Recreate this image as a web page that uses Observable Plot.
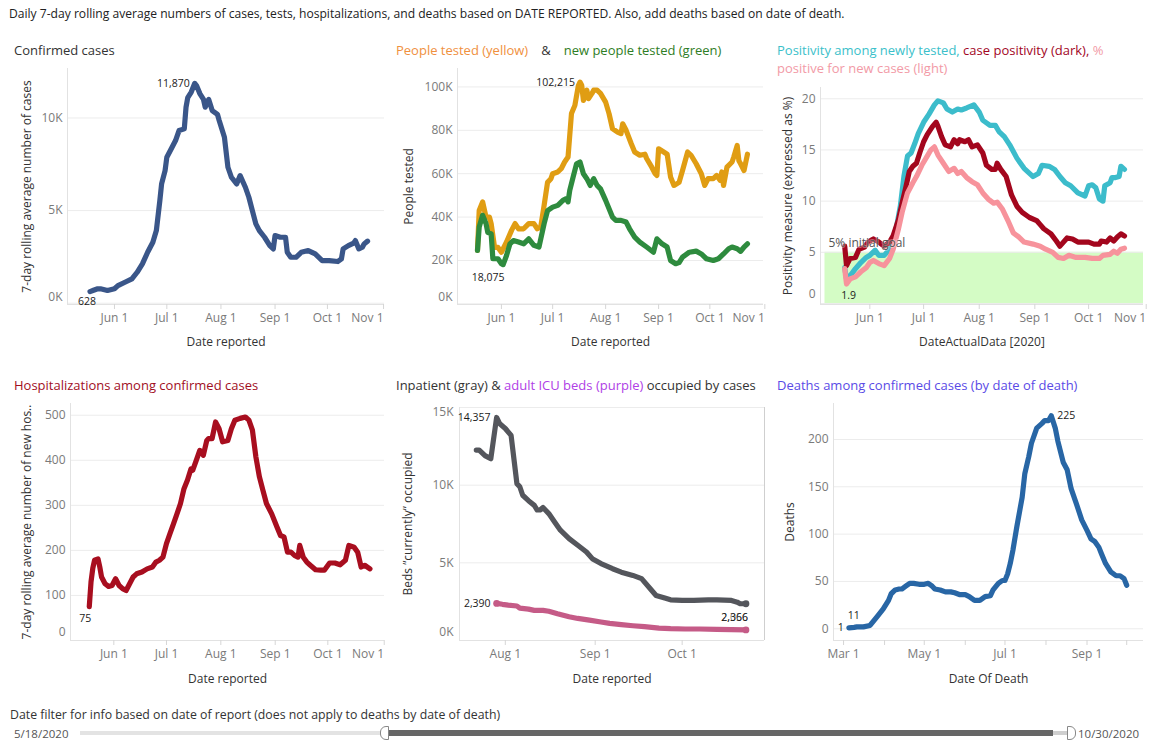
<!DOCTYPE html>
<html>
<head>
<meta charset="utf-8">
<script src="https://cdn.jsdelivr.net/npm/d3@7"></script>
<script src="https://cdn.jsdelivr.net/npm/@observablehq/plot@0.6"></script>
<style>
  body { margin: 0; background: #fff; font-family: "Open Sans", sans-serif; }
  #root { position: relative; width: 1154px; height: 750px; overflow: hidden; background: #fff; }
  .abs { position: absolute; white-space: nowrap; }
  .ptitle { font-size: 13px; line-height: 18px; }
</style>
</head>
<body>
<div id="root"></div>
<script>
// ---------------- DATA ----------------
const confirmedCases = [
  ["2020-05-18",628],["2020-05-20",700],["2020-05-22",770],["2020-05-24",780],["2020-05-28",690],
  ["2020-06-01",780],["2020-06-03",950],["2020-06-07",1130],["2020-06-11",1310],["2020-06-14",1670],
  ["2020-06-17",2120],["2020-06-20",2750],["2020-06-23",3290],["2020-06-25",3920],["2020-06-27",5540],
  ["2020-06-28",6440],["2020-06-30",7160],["2020-07-01",7880],["2020-07-04",8420],["2020-07-06",8780],
  ["2020-07-08",9320],["2020-07-11",9410],["2020-07-12",10580],["2020-07-13",11100],["2020-07-15",11400],
  ["2020-07-17",11870],["2020-07-18",11750],["2020-07-20",11300],["2020-07-22",11000],["2020-07-23",10580],
  ["2020-07-25",11000],["2020-07-27",10400],["2020-07-30",10200],["2020-07-31",9860],["2020-08-03",8960],
  ["2020-08-05",7340],["2020-08-07",6800],["2020-08-10",6440],["2020-08-12",6890],["2020-08-15",6260],
  ["2020-08-17",5720],["2020-08-19",5000],["2020-08-21",4280],["2020-08-23",3920],["2020-08-26",3560],
  ["2020-08-29",3110],["2020-08-31",2930],["2020-09-01",3650],["2020-09-04",3560],["2020-09-07",3560],
  ["2020-09-08",2750],["2020-09-10",2480],["2020-09-13",2480],["2020-09-16",2750],["2020-09-20",2840],
  ["2020-09-24",2660],["2020-09-28",2300],["2020-10-02",2300],["2020-10-07",2250],["2020-10-09",2390],
  ["2020-10-10",2930],["2020-10-13",3110],["2020-10-16",3240],["2020-10-17",3380],["2020-10-19",2930],
  ["2020-10-21",3020],["2020-10-22",3200],["2020-10-24",3350]
];

const peopleTested = [
  ["2020-05-18",24600],["2020-05-19",43000],["2020-05-21",47000],["2020-05-23",40000],["2020-05-25",40000],
  ["2020-05-26",37000],["2020-05-28",26000],["2020-05-30",26000],["2020-06-01",23800],["2020-06-04",28500],
  ["2020-06-07",34000],["2020-06-09",37000],["2020-06-11",34600],["2020-06-14",34600],["2020-06-17",37000],
  ["2020-06-20",37000],["2020-06-22",34600],["2020-06-24",35400],["2020-06-26",45400],["2020-06-28",56000],
  ["2020-06-30",57700],["2020-07-01",60000],["2020-07-04",60800],["2020-07-06",62300],["2020-07-08",65400],
  ["2020-07-10",67700],["2020-07-12",87700],["2020-07-14",91500],["2020-07-16",100500],["2020-07-17",102215],
  ["2020-07-18",100800],["2020-07-19",93800],["2020-07-21",98500],["2020-07-22",94600],["2020-07-24",97000],
  ["2020-07-25",98500],["2020-07-27",98500],["2020-07-29",97000],["2020-08-01",93000],["2020-08-03",87700],
  ["2020-08-05",80800],["2020-08-08",79200],["2020-08-10",78500],["2020-08-11",83000],["2020-08-13",80000],
  ["2020-08-16",73800],["2020-08-18",70000],["2020-08-21",68500],["2020-08-24",69000],["2020-08-25",67000],
  ["2020-08-28",63000],["2020-08-30",60000],["2020-08-31",59200],["2020-09-01",71500],["2020-09-04",70000],
  ["2020-09-06",69000],["2020-09-08",58500],["2020-09-10",54600],["2020-09-13",56000],["2020-09-15",61500],
  ["2020-09-18",70000],["2020-09-20",68500],["2020-09-23",64600],["2020-09-26",60000],["2020-09-28",54600],
  ["2020-09-30",57700],["2020-10-03",57700],["2020-10-05",59200],["2020-10-07",57000],["2020-10-08",60800],
  ["2020-10-09",54600],["2020-10-11",63000],["2020-10-14",65400],["2020-10-15",67700],["2020-10-17",73000],
  ["2020-10-18",66000],["2020-10-19",64600],["2020-10-21",61500],["2020-10-23",69000]
];

const newPeopleTested = [
  ["2020-05-18",24600],["2020-05-19",35400],["2020-05-21",40800],["2020-05-23",37000],["2020-05-24",33000],
  ["2020-05-26",32300],["2020-05-27",20800],["2020-05-30",20800],["2020-06-01",18500],["2020-06-02",18075],
  ["2020-06-04",22300],["2020-06-06",27700],["2020-06-08",29200],["2020-06-11",28500],["2020-06-14",27700],
  ["2020-06-17",30000],["2020-06-20",27000],["2020-06-23",26200],["2020-06-26",37000],["2020-06-28",43000],
  ["2020-07-01",44600],["2020-07-04",45400],["2020-07-07",47700],["2020-07-09",48500],["2020-07-10",47000],
  ["2020-07-11",52300],["2020-07-13",58500],["2020-07-15",64600],["2020-07-17",65400],["2020-07-19",60000],
  ["2020-07-21",57700],["2020-07-23",54600],["2020-07-25",57700],["2020-07-27",54600],["2020-07-29",53000],
  ["2020-08-01",47700],["2020-08-05",40000],["2020-08-07",38500],["2020-08-10",38500],["2020-08-13",37700],
  ["2020-08-15",34600],["2020-08-18",30800],["2020-08-21",28500],["2020-08-25",26200],["2020-08-29",23800],
  ["2020-08-31",30000],["2020-09-03",27700],["2020-09-06",26200],["2020-09-08",20000],["2020-09-11",18500],
  ["2020-09-13",19000],["2020-09-15",21500],["2020-09-19",23800],["2020-09-23",24300],["2020-09-26",23000],
  ["2020-09-29",20800],["2020-10-03",20000],["2020-10-06",20800],["2020-10-09",23000],["2020-10-12",25400],
  ["2020-10-14",26200],["2020-10-17",25400],["2020-10-19",24200],["2020-10-21",26200],["2020-10-23",27700]
];

const positivityNewlyTested = [
  ["2020-05-18",3.5],["2020-05-19",2.4],["2020-05-21",2.7],["2020-05-24",3.4],["2020-05-27",4.0],
  ["2020-05-30",4.5],["2020-06-01",4.7],["2020-06-04",5.2],["2020-06-06",4.7],["2020-06-09",4.7],
  ["2020-06-12",5.3],["2020-06-14",6.0],["2020-06-16",7.6],["2020-06-18",9.5],["2020-06-20",12.4],
  ["2020-06-22",14.4],["2020-06-24",14.7],["2020-06-26",15.6],["2020-06-28",16.6],["2020-07-01",17.7],
  ["2020-07-04",18.5],["2020-07-07",19.4],["2020-07-09",19.8],["2020-07-12",19.6],["2020-07-14",19.0],
  ["2020-07-17",18.7],["2020-07-20",19.0],["2020-07-22",18.9],["2020-07-25",19.1],["2020-07-29",19.4],
  ["2020-08-01",18.7],["2020-08-03",17.9],["2020-08-07",17.4],["2020-08-10",17.4],["2020-08-12",16.8],
  ["2020-08-15",16.3],["2020-08-18",15.5],["2020-08-22",14.2],["2020-08-26",13.2],["2020-08-31",12.4],
  ["2020-09-03",12.7],["2020-09-05",13.5],["2020-09-09",13.4],["2020-09-12",13.1],["2020-09-15",12.4],
  ["2020-09-18",11.8],["2020-09-21",11.5],["2020-09-25",10.8],["2020-09-29",10.5],["2020-10-01",11.5],
  ["2020-10-03",11.6],["2020-10-05",11.3],["2020-10-07",10.2],["2020-10-09",10.0],["2020-10-10",11.5],
  ["2020-10-13",11.8],["2020-10-14",12.3],["2020-10-16",12.3],["2020-10-18",12.4],["2020-10-19",13.4],
  ["2020-10-21",13.1]
];

const casePositivity = [
  ["2020-05-18",5.6],["2020-05-19",3.7],["2020-05-21",4.4],["2020-05-24",4.5],["2020-05-26",5.3],
  ["2020-05-29",5.5],["2020-05-31",6.0],["2020-06-03",6.3],["2020-06-06",6.0],["2020-06-09",5.6],
  ["2020-06-12",6.0],["2020-06-14",6.6],["2020-06-17",8.2],["2020-06-19",9.8],["2020-06-21",11.3],
  ["2020-06-23",12.9],["2020-06-25",13.4],["2020-06-27",13.7],["2020-06-29",14.8],["2020-07-01",15.8],
  ["2020-07-03",16.5],["2020-07-06",17.3],["2020-07-08",17.7],["2020-07-09",17.3],["2020-07-11",16.3],
  ["2020-07-13",15.5],["2020-07-16",15.3],["2020-07-18",16.0],["2020-07-20",15.6],["2020-07-21",16.0],
  ["2020-07-24",15.8],["2020-07-26",16.0],["2020-07-28",15.3],["2020-07-31",15.5],["2020-08-03",14.7],
  ["2020-08-05",13.5],["2020-08-08",13.1],["2020-08-10",13.1],["2020-08-11",13.7],["2020-08-13",13.1],
  ["2020-08-16",12.4],["2020-08-19",10.6],["2020-08-22",9.5],["2020-08-25",8.9],["2020-08-29",8.4],
  ["2020-09-02",8.1],["2020-09-04",7.7],["2020-09-06",7.3],["2020-09-10",6.8],["2020-09-13",6.1],
  ["2020-09-15",5.6],["2020-09-19",6.4],["2020-09-22",6.3],["2020-09-25",6.0],["2020-09-28",6.0],
  ["2020-10-01",6.0],["2020-10-04",5.8],["2020-10-07",5.8],["2020-10-08",6.1],["2020-10-11",6.0],
  ["2020-10-13",6.4],["2020-10-15",6.1],["2020-10-17",6.5],["2020-10-19",6.8],["2020-10-21",6.6]
];

const pctPositiveNewCases = [
  ["2020-05-18",3.4],["2020-05-19",1.9],["2020-05-21",2.4],["2020-05-24",2.6],["2020-05-27",3.1],
  ["2020-05-30",3.5],["2020-06-01",4.0],["2020-06-03",4.2],["2020-06-06",3.9],["2020-06-09",3.7],
  ["2020-06-12",4.4],["2020-06-14",5.3],["2020-06-17",7.3],["2020-06-19",8.9],["2020-06-22",10.8],
  ["2020-06-25",11.8],["2020-06-27",12.4],["2020-06-30",13.5],["2020-07-03",14.4],["2020-07-05",15.0],
  ["2020-07-07",15.3],["2020-07-09",14.5],["2020-07-12",13.7],["2020-07-15",12.9],["2020-07-18",13.2],
  ["2020-07-20",12.7],["2020-07-22",12.9],["2020-07-25",12.3],["2020-07-28",11.9],["2020-07-31",11.6],
  ["2020-08-03",10.8],["2020-08-06",10.2],["2020-08-09",9.8],["2020-08-11",9.9],["2020-08-14",9.2],
  ["2020-08-17",8.1],["2020-08-20",6.9],["2020-08-23",6.5],["2020-08-26",6.0],["2020-08-31",5.8],
  ["2020-09-04",5.6],["2020-09-07",5.3],["2020-09-11",5.0],["2020-09-14",4.5],["2020-09-17",4.4],
  ["2020-09-20",4.7],["2020-09-24",4.5],["2020-09-29",4.5],["2020-10-03",4.4],["2020-10-07",4.4],
  ["2020-10-09",4.7],["2020-10-13",4.8],["2020-10-15",5.1],["2020-10-17",4.9],["2020-10-19",5.3],
  ["2020-10-21",5.4]
];
const positivityGoal = 5;

const hospitalizations = [
  ["2020-05-18",75],["2020-05-19",130],["2020-05-20",160],["2020-05-21",178],["2020-05-23",181],
  ["2020-05-24",163],["2020-05-25",141],["2020-05-27",126],["2020-05-29",120],["2020-05-31",122],
  ["2020-06-02",137],["2020-06-04",122],["2020-06-06",115],["2020-06-08",111],["2020-06-10",126],
  ["2020-06-12",141],["2020-06-14",148],["2020-06-17",152],["2020-06-20",159],["2020-06-23",163],
  ["2020-06-25",174],["2020-06-27",178],["2020-06-29",185],["2020-07-01",215],["2020-07-03",237],
  ["2020-07-05",259],["2020-07-07",281],["2020-07-09",304],["2020-07-11",337],["2020-07-13",356],
  ["2020-07-15",381],["2020-07-16",378],["2020-07-18",400],["2020-07-20",422],["2020-07-22",411],
  ["2020-07-24",444],["2020-07-25",448],["2020-07-27",448],["2020-07-29",485],["2020-07-31",470],
  ["2020-08-02",441],["2020-08-05",444],["2020-08-07",470],["2020-08-09",489],["2020-08-12",493],
  ["2020-08-15",496],["2020-08-17",489],["2020-08-19",467],["2020-08-21",407],["2020-08-23",363],
  ["2020-08-25",333],["2020-08-27",304],["2020-08-30",281],["2020-09-02",252],["2020-09-04",233],
  ["2020-09-06",230],["2020-09-08",196],["2020-09-10",196],["2020-09-12",189],["2020-09-14",185],
  ["2020-09-15",211],["2020-09-17",185],["2020-09-19",174],["2020-09-21",167],["2020-09-24",157],
  ["2020-09-27",156],["2020-09-29",156],["2020-10-02",172],["2020-10-05",172],["2020-10-08",168],
  ["2020-10-11",178],["2020-10-13",211],["2020-10-16",207],["2020-10-18",196],["2020-10-20",163],
  ["2020-10-22",167],["2020-10-25",159]
];

const inpatientBeds = [
  ["2020-07-22",12260],["2020-07-23",12260],["2020-07-25",11900],["2020-07-27",11700],["2020-07-29",14357],
  ["2020-07-30",13970],["2020-08-01",13650],["2020-08-03",13200],["2020-08-05",10100],["2020-08-06",9900],
  ["2020-08-07",9350],["2020-08-09",9000],["2020-08-11",8700],["2020-08-12",8400],["2020-08-13",8400],
  ["2020-08-14",8560],["2020-08-16",8170],["2020-08-18",7630],["2020-08-20",7100],["2020-08-23",6560],
  ["2020-08-26",6130],["2020-08-29",5700],["2020-08-31",5270],["2020-09-03",4950],["2020-09-07",4620],
  ["2020-09-10",4400],["2020-09-14",4190],["2020-09-17",3980],["2020-09-20",3330],["2020-09-22",2900],
  ["2020-09-25",2730],["2020-09-27",2620],["2020-10-01",2580],["2020-10-05",2580],["2020-10-10",2620],
  ["2020-10-13",2620],["2020-10-18",2580],["2020-10-20",2470],["2020-10-21",2370],["2020-10-23",2366]
];

const icuBeds = [
  ["2020-07-29",2390],["2020-07-31",2330],["2020-08-02",2280],["2020-08-05",2220],["2020-08-06",2080],
  ["2020-08-09",2020],["2020-08-11",1940],["2020-08-14",1940],["2020-08-16",1880],["2020-08-19",1720],
  ["2020-08-23",1530],["2020-08-26",1420],["2020-08-30",1310],["2020-09-03",1190],["2020-09-06",1100],
  ["2020-09-10",1020],["2020-09-14",950],["2020-09-18",890],["2020-09-23",800],["2020-09-27",760],
  ["2020-10-02",740],["2020-10-07",740],["2020-10-13",720],["2020-10-18",700],["2020-10-23",680]
];

const deathsByDate = [
  ["2020-03-05",1],["2020-03-09",1.5],["2020-03-11",2],["2020-03-16",2],["2020-03-21",3.5],
  ["2020-03-23",7],["2020-03-27",14],["2020-03-31",21],["2020-04-04",30],["2020-04-06",37],
  ["2020-04-09",41],["2020-04-12",42],["2020-04-14",42],["2020-04-17",45],["2020-04-20",48],
  ["2020-04-23",48],["2020-04-27",47],["2020-05-01",47],["2020-05-04",48],["2020-05-07",45],
  ["2020-05-09",42],["2020-05-13",41],["2020-05-17",39],["2020-05-21",39],["2020-05-24",38],
  ["2020-05-28",36],["2020-06-01",36],["2020-06-04",34],["2020-06-08",30],["2020-06-12",30],
  ["2020-06-16",34],["2020-06-20",35],["2020-06-22",41],["2020-06-26",48],["2020-06-29",51],
  ["2020-07-01",51],["2020-07-03",58],["2020-07-05",69],["2020-07-07",83],["2020-07-10",108],
  ["2020-07-14",139],["2020-07-16",164],["2020-07-19",182],["2020-07-21",196],["2020-07-25",212],
  ["2020-07-29",217],["2020-07-31",220],["2020-08-03",220],["2020-08-05",225],["2020-08-08",212],
  ["2020-08-10",198],["2020-08-14",176],["2020-08-17",168],["2020-08-20",148],["2020-08-24",132],
  ["2020-08-28",115],["2020-09-01",104],["2020-09-04",95],["2020-09-07",92],["2020-09-10",86],
  ["2020-09-12",79],["2020-09-15",69],["2020-09-19",60],["2020-09-23",56],["2020-09-26",56],
  ["2020-09-29",53],["2020-10-01",46]
];

// tick values
const reportTicks = ["2020-06-01","2020-07-01","2020-08-01","2020-09-01","2020-10-01","2020-11-01"];
const bedTicks = ["2020-08-01","2020-09-01","2020-10-01"];
const deathTicks = ["2020-03-01","2020-04-01","2020-05-01","2020-06-01","2020-07-01","2020-08-01","2020-09-01","2020-10-01"];
const casesYTicks = [0, 5000, 10000];
const testedYTicks = [0, 20000, 40000, 60000, 80000, 100000];
const positivityYTicks = [0, 5, 10, 15, 20];
const hospYTicks = [0, 100, 200, 300, 400, 500];
const bedsYTicks = [0, 5000, 10000, 15000];
const deathsYTicks = [0, 50, 100, 150, 200];

// ---------------- helpers ----------------
const parse = s => new Date(s + "T00:00:00Z");
const shiftDays = (base, d) => new Date(parse(base).getTime() + d * 864e5);
const X = d => parse(d[0]);
const Y = d => d[1];
const fmtDate = d3.utcFormat("%b %-d");
const fmtK = d => (d / 1000) + "K";
const fmtN = d3.format(",");
const FONT = '"Open Sans", sans-serif';
const root = document.getElementById("root");

function addDiv(html, style, cls = "abs") {
  const el = document.createElement("div");
  el.className = cls;
  el.innerHTML = html;
  Object.assign(el.style, style);
  root.appendChild(el);
  return el;
}

const lineOpts = (stroke) => ({x: X, y: Y, stroke, strokeWidth: 5.2, strokeLinecap: "round", strokeLinejoin: "round"});
const label = (pt, opts) => Plot.text([pt], {x: X, y: Y, fontSize: 10.5, fill: "#1a1a1a", ...opts});

function panel(c) {
  const xd = c.xDays.map(d => shiftDays(c.base, d));
  const ticks = c.xTicks.map(parse);
  const mainTicks = c.endLast ? ticks.slice(0, -1) : ticks;
  const shiftedVals = Object.keys(c.yShift || {}).map(Number);
  const yFmt = c.yFmt || (d => d);
  const marks = [
    ...(c.under || []),
    Plot.gridY({ticks: c.yTicks, stroke: "#ececec", strokeOpacity: 1}),
    Plot.ruleX([xd[0]], {stroke: "#e2e2e2"}),
    Plot.ruleY([c.yDomain[0]], {stroke: "#e2e2e2"}),
    ...(c.rightRule ? [Plot.ruleX([xd[1]], {stroke: "#cfcfcf"})] : []),
    Plot.axisY({ticks: c.yTicks.filter(t => !shiftedVals.includes(t)), tickSize: 0, tickPadding: c.yPad || 5,
      tickFormat: yFmt, fill: "#7a7a7a", label: null}),
    ...shiftedVals.map(t => Plot.axisY({ticks: [t], tickSize: 0, tickPadding: c.yPad || 5, dy: c.yShift[t],
      tickFormat: yFmt, fill: "#7a7a7a", label: null})),
    Plot.axisX({ticks: mainTicks, tickSize: 5, tickPadding: 4, stroke: "#d6d6d6", fill: "#7a7a7a", label: null,
      tickFormat: c.xFmt || fmtDate}),
    ...(c.endLast ? [Plot.axisX({ticks: ticks.slice(-1), tickSize: 5, tickPadding: 4, stroke: "#d6d6d6",
      fill: "#7a7a7a", label: null, tickFormat: fmtDate, textAnchor: "end", dx: 2})] : []),
    Plot.text([c.yLabel], {frameAnchor: "left", rotate: -90, dx: c.yLabelDx, text: d => d, fill: "#333",
      textAnchor: "middle", fontSize: 12}),
    Plot.text([c.xLabel], {frameAnchor: "bottom", dy: c.xLabelDy, text: d => d, fill: "#333", fontSize: 12}),
    ...c.marks
  ];
  const svg = Plot.plot({
    width: c.width, height: c.height,
    marginLeft: c.ml, marginRight: c.mr, marginTop: c.mt, marginBottom: c.mb,
    x: {type: "utc", domain: xd},
    y: {domain: c.yDomain},
    style: {fontFamily: FONT, fontSize: "12px", background: "transparent", overflow: "visible", color: "#333"},
    marks
  });
  const holder = addDiv("", {left: c.left + "px", top: c.top + "px", width: c.width + "px", height: c.height + "px"});
  holder.appendChild(svg);
}

// ---------------- header ----------------
addDiv("Daily 7-day rolling average numbers of cases, tests, hospitalizations, and deaths based on DATE REPORTED. Also, add deaths based on date of death.",
  {left: "9px", top: "5px", fontSize: "12.1px", color: "#222"});

// ---------------- panel titles ----------------
addDiv('Confirmed cases', {left: "14px", top: "41px", color: "#333"}, "abs ptitle");
addDiv('<span style="color:#f0903e">People tested (yellow)</span><span style="color:#333;margin:0 13px">&amp;</span><span style="color:#2f7d25">new people tested (green)</span>',
  {left: "396px", top: "41px"}, "abs ptitle");
addDiv('<span style="color:#3bbfca">Positivity among newly tested,</span> <span style="color:#a2061f">case positivity (dark),</span> <span style="color:#f29aa6">%</span><br><span style="color:#f29aa6">positive for new cases (light)</span>',
  {left: "777px", top: "41px"}, "abs ptitle");
addDiv('Hospitalizations among confirmed cases', {left: "14px", top: "376px", color: "#a10e1e"}, "abs ptitle");
addDiv('<span style="color:#333">Inpatient (gray) &amp; </span><span style="color:#b03ee6">adult ICU beds (purple)</span><span style="color:#333"> occupied by cases</span>',
  {left: "396px", top: "376px"}, "abs ptitle");
addDiv('Deaths among confirmed cases (by date of death)', {left: "777px", top: "376px", color: "#5a4ae6"}, "abs ptitle");

// ---------------- panels ----------------
const casesMin = confirmedCases.reduce((a, b) => b[1] < a[1] ? b : a);
const casesMax = confirmedCases.reduce((a, b) => b[1] > a[1] ? b : a);
panel({
  left: 0, top: 60, width: 385, height: 300, ml: 67, mr: 1, mt: 8, mb: 56,
  base: "2020-06-01", xDays: [-26.9, 154.7], yDomain: [-70, 12670],
  xTicks: reportTicks, endLast: true, yTicks: casesYTicks, yFmt: fmtK, yShift: {0: -6},
  yLabel: "7-day rolling average number of cases", yLabelDx: -40,
  xLabel: "Date reported", xLabelDy: 41,
  marks: [
    Plot.line(confirmedCases, lineOpts("#3a5689")),
    label(casesMax, {text: d => fmtN(d[1]), textAnchor: "end", dx: -5}),
    label(casesMin, {text: d => fmtN(d[1]), textAnchor: "middle", dx: -3, dy: 10})
  ]
});

const testedMax = peopleTested.reduce((a, b) => b[1] > a[1] ? b : a);
const newTestedMin = newPeopleTested.reduce((a, b) => b[1] < a[1] ? b : a);
panel({
  left: 385, top: 60, width: 385, height: 300, ml: 72, mr: 7, mt: 8, mb: 56,
  base: "2020-06-01", xDays: [-25.7, 153.4], yDomain: [-300, 108500],
  xTicks: reportTicks, endLast: true, yTicks: testedYTicks, yFmt: fmtK, yShift: {0: -7},
  yLabel: "People tested", yLabelDx: -48,
  xLabel: "Date reported", xLabelDy: 41,
  marks: [
    Plot.line(peopleTested, lineOpts("#e09d13")),
    Plot.line(newPeopleTested, lineOpts("#2e8b3e")),
    label(testedMax, {text: d => fmtN(d[1]), textAnchor: "end", dx: -5}),
    label(newTestedMin, {text: d => fmtN(d[1]), textAnchor: "middle", dx: -15, dy: 13})
  ]
});

const pinkMin = pctPositiveNewCases.reduce((a, b) => b[1] < a[1] ? b : a);
const bandStart = shiftDays("2020-06-01", -25);
const bandEnd = shiftDays("2020-06-01", 152.6);
panel({
  left: 770, top: 60, width: 384, height: 300, ml: 50, mr: 11, mt: 27, mb: 56,
  base: "2020-06-01", xDays: [-27.5, 152.6], yDomain: [-0.1, 21.1],
  xTicks: reportTicks, endLast: true, yTicks: positivityYTicks, yShift: {0: -9},
  yLabel: "Positivity measure (expressed as %)", yLabelDx: -32,
  xLabel: "DateActualData [2020]", xLabelDy: 41,
  under: [
    Plot.rect([positivityGoal], {x1: () => bandStart, x2: () => bandEnd, y1: () => -0.1, y2: d => d, fill: "#d4fcc5"})
  ],
  marks: [
    Plot.line(positivityNewlyTested, lineOpts("#3cbccb")),
    Plot.line(casePositivity, lineOpts("#a3061d")),
    Plot.line(pctPositiveNewCases, lineOpts("#f7939c")),
    Plot.text([positivityGoal], {frameAnchor: "left", y: d => d, text: d => d + "% initial goal", textAnchor: "start",
      dx: 8, dy: -9, fill: "#555", fontSize: 12, stroke: "white", strokeOpacity: 0.35, strokeWidth: 2}),
    label(pinkMin, {text: d => d[1], textAnchor: "middle", dx: 2, dy: 12})
  ]
});

const hospMin = hospitalizations.reduce((a, b) => b[1] < a[1] ? b : a);
panel({
  left: 0, top: 395, width: 385, height: 300, ml: 70, mr: 1, mt: 8, mb: 55,
  base: "2020-06-01", xDays: [-24.7, 154.3], yDomain: [0, 526],
  xTicks: reportTicks, endLast: true, yTicks: hospYTicks, yShift: {0: -8},
  yLabel: "7-day rolling average number of new hos..", yLabelDx: -43,
  xLabel: "Date reported", xLabelDy: 42,
  marks: [
    Plot.line(hospitalizations, lineOpts("#a80e1f")),
    label(hospMin, {text: d => d[1], textAnchor: "middle", dx: -4, dy: 12})
  ]
});

const bedsMax = inpatientBeds.reduce((a, b) => b[1] > a[1] ? b : a);
const bedsLast = inpatientBeds[inpatientBeds.length - 1];
const icuFirst = icuBeds[0];
const icuLast = icuBeds[icuBeds.length - 1];
panel({
  left: 385, top: 395, width: 385, height: 300, ml: 74, mr: 6, mt: 12, mb: 55,
  base: "2020-08-01", xDays: [-15.8, 89.4], yDomain: [0, 15000], rightRule: true,
  xTicks: bedTicks, endLast: false, yTicks: bedsYTicks, yFmt: fmtK, yShift: {0: -8, 15000: 5}, yPad: 6,
  yLabel: "Beds \u201dcurrently\u201d occupied", yLabelDx: -51,
  xLabel: "Date reported", xLabelDy: 42,
  marks: [
    Plot.line(inpatientBeds, lineOpts("#54565c")),
    Plot.line(icuBeds, lineOpts("#c55b87")),
    Plot.dot([bedsLast], {x: X, y: Y, r: 3.4, fill: "#54565c"}),
    Plot.dot([icuFirst, icuLast], {x: X, y: Y, r: 3.4, fill: "#c55b87"}),
    label(bedsMax, {text: d => fmtN(d[1]), textAnchor: "end", dx: -6}),
    label(icuFirst, {text: d => fmtN(d[1]), textAnchor: "end", dx: -6}),
    label(bedsLast, {text: d => fmtN(d[1]), textAnchor: "end", dx: 2, dy: 14}),
    label(bedsLast, {text: () => "2,056", textAnchor: "end", dx: 2, dy: 14, fillOpacity: 0.6})
  ]
});

const deathsMax = deathsByDate.reduce((a, b) => b[1] > a[1] ? b : a);
const deathsFirst = deathsByDate[0];
panel({
  left: 770, top: 395, width: 384, height: 300, ml: 63, mr: 11, mt: 8, mb: 55,
  base: "2020-03-01", xDays: [-7.6, 226.7], yDomain: [-12.4, 238],
  xTicks: deathTicks, endLast: false, yTicks: deathsYTicks,
  xFmt: d => [2, 4, 6, 8].includes(d.getUTCMonth()) ? fmtDate(d) : "",
  yLabel: "Deaths", yLabelDx: -43,
  xLabel: "Date Of Death", xLabelDy: 42,
  marks: [
    Plot.line(deathsByDate, lineOpts("#2866a5")),
    label(deathsMax, {text: d => d[1], textAnchor: "start", dx: 6}),
    label(deathsFirst, {text: d => d[1], textAnchor: "end", dx: -5}),
    label(deathsFirst, {text: () => "11", textAnchor: "middle", dx: 5, dy: -12})
  ]
});

// ---------------- date filter (slider) ----------------
addDiv("Date filter for info based on date of report (does not apply to deaths by date of death)",
  {left: "10px", top: "706px", fontSize: "12.3px", color: "#333"});
addDiv("5/18/2020", {left: "14px", top: "726px", fontSize: "11.5px", color: "#555"});
addDiv("10/30/2020", {left: "1078px", top: "726px", fontSize: "11.5px", color: "#555"});
addDiv("", {left: "80px", top: "731px", width: "305px", height: "4px", background: "#e3e3e3"});
addDiv("", {left: "388px", top: "730px", width: "665px", height: "6px", background: "#666"});
addDiv("", {left: "1053px", top: "731px", width: "15px", height: "4px", background: "#cfcfcf"});
addDiv("", {left: "380px", top: "726px", width: "7px", height: "12px", background: "#fff", border: "1px solid #888",
  borderRadius: "6px 0 0 6px"});
addDiv("", {left: "1067px", top: "726px", width: "7px", height: "12px", background: "#fff", border: "1px solid #888",
  borderRadius: "0 6px 6px 0"});
</script>
</body>
</html>
